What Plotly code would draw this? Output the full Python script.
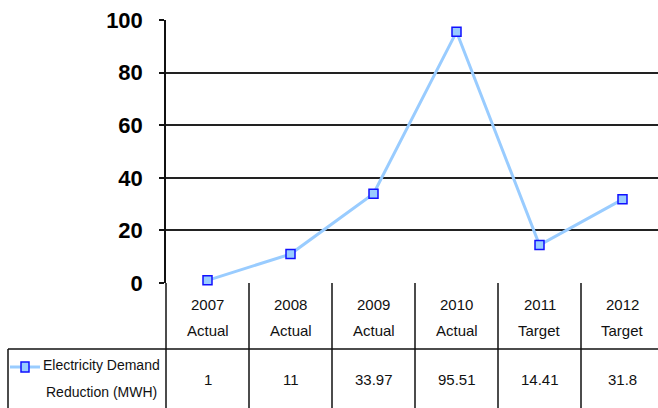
import plotly.graph_objects as go

categories_year = ["2007", "2008", "2009", "2010", "2011", "2012"]
categories_kind = ["Actual", "Actual", "Actual", "Actual", "Target", "Target"]
values = [1, 11, 33.97, 95.51, 14.41, 31.8]
value_labels = ["1", "11", "33.97", "95.51", "14.41", "31.8"]
series_name_lines = ["Electricity Demand", "Reduction (MWH)"]
y_ticks = [0, 20, 40, 60, 80, 100]

W, H = 658, 408
L, T, B = 166, 20, 125
PLOT_H = H - T - B  # 263
CAT_W = 83
n = len(categories_year)
x_idx = list(range(n))
x_max = -0.5 + (W - L) / CAT_W

FONT = "Liberation Sans, Arial, sans-serif"
LINE_C = "#99CCFF"
MARK_EDGE = "#1010FF"
TXT = "#111"


def py(pix):
    """pixel y (from top) to paper y"""
    return (H - B - pix) / PLOT_H


def px(pix):
    return (pix - L) / (W - L)


fig = go.Figure()
fig.add_trace(go.Scatter(
    x=x_idx, y=values, mode="lines+markers",
    line=dict(color=LINE_C, width=3),
    marker=dict(symbol="square", size=9, color=LINE_C,
                line=dict(color=MARK_EDGE, width=1.5)),
    cliponaxis=False, showlegend=False, hoverinfo="skip",
))

shapes = []
black = dict(color="#111", width=1.5)
shapes.append(dict(type="line", xref="paper", yref="paper",
                   x0=px(8), x1=1.0, y0=py(349), y1=py(349), line=black))
shapes.append(dict(type="line", xref="paper", yref="paper",
                   x0=px(8), x1=px(8), y0=py(349), y1=py(410), line=black))
shapes.append(dict(type="line", xref="paper", yref="paper",
                   x0=0, x1=0, y0=0, y1=py(410), line=black))
for i in range(n):
    xb = i + 0.5
    shapes.append(dict(type="line", xref="x", yref="paper",
                       x0=xb, x1=xb, y0=0, y1=py(410), line=black))
# legend key
shapes.append(dict(type="line", xref="paper", yref="paper",
                   x0=px(10), x1=px(40), y0=py(367), y1=py(367),
                   line=dict(color=LINE_C, width=3)))
shapes.append(dict(type="rect", xref="paper", yref="paper",
                   x0=px(21), x1=px(29), y0=py(362), y1=py(372),
                   fillcolor=LINE_C, line=dict(color=MARK_EDGE, width=1.5)))

f = dict(family=FONT, size=15, color=TXT)
fl = dict(family=FONT, size=14, color=TXT)
common = dict(showarrow=False, font=f, xanchor="center", yanchor="middle")
common_l = dict(showarrow=False, font=fl, xanchor="center", yanchor="middle")
annotations = []
for i in range(n):
    annotations.append(dict(x=i, y=py(304), xref="x", yref="paper",
                            text=categories_year[i], **common))
    annotations.append(dict(x=i, y=py(330), xref="x", yref="paper",
                            text=categories_kind[i], **common))
    annotations.append(dict(x=i, y=py(379), xref="x", yref="paper",
                            text=value_labels[i], **common))
annotations.append(dict(x=px(101), y=py(365), xref="paper", yref="paper",
                        text=series_name_lines[0], **common_l))
annotations.append(dict(x=px(101), y=py(392), xref="paper", yref="paper",
                        text=series_name_lines[1], **common_l))

fig.update_layout(
    width=W, height=H,
    margin=dict(l=L, r=0, t=T, b=B, pad=0),
    paper_bgcolor="white", plot_bgcolor="white",
    xaxis=dict(range=[-0.5, x_max], showgrid=False, zeroline=False,
               showticklabels=False, showline=False, ticks="",
               fixedrange=True),
    yaxis=dict(range=[0, 100], tickvals=y_ticks,
               showgrid=True, gridcolor="#222", gridwidth=1.5,
               zeroline=False, showline=True, linecolor="#111", linewidth=1.5,
               ticks="outside", ticklen=5, tickcolor="#111", tickwidth=1.5,
               ticklabelstandoff=12,
               tickfont=dict(family=FONT, size=22, color="#000", weight="bold"),
               fixedrange=True),
    shapes=shapes, annotations=annotations,
)

fig.write_html("out.html", config={"displayModeBar": False},
               post_script="document.body.style.margin='0';")
